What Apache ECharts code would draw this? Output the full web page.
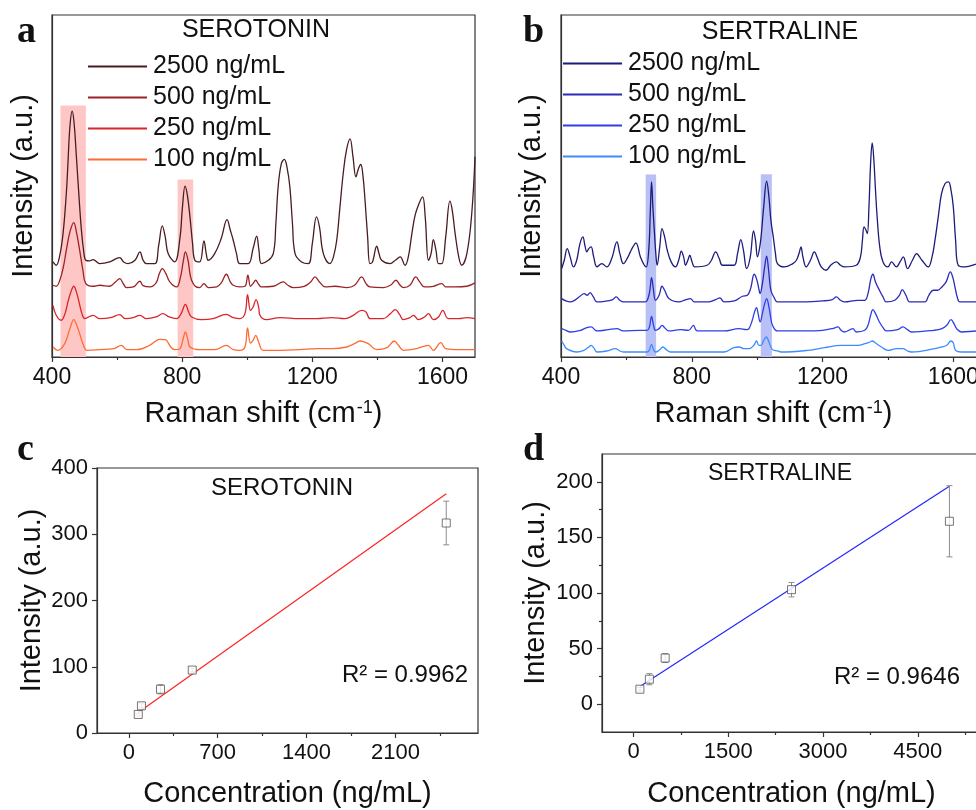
<!DOCTYPE html>
<html><head><meta charset="utf-8">
<script src="https://cdn.jsdelivr.net/npm/echarts@6/dist/echarts.min.js"></script>
<style>html,body{margin:0;padding:0;background:#fff}#c{width:976px;height:810px}</style>
</head><body><div id="c"></div>
<script>
// ---------------- DATA ----------------
const concLabels = ['2500 ng/mL', '500 ng/mL', '250 ng/mL', '100 ng/mL'];
const ramanTicks = [400, 800, 1200, 1600];
const ramanMinor = [600, 1000, 1400];

// Serotonin SERS spectra [Raman shift, intensity (a.u., offset)]
const sero2500 = [[403,285],[413,275],[424,305],[434,370],[444,490],[449,580],[455,690],[462,737],[468,700],[475,600],[483,480],[490,385],[497,320],[504,290],[515,288],[526,292],[547,280],[577,285],[608,298],[620,285],[634,280],[655,290],[670,315],[680,290],[690,280],[716,280],[728,335],[739,393],[748,360],[757,310],[777,285],[793,355],[801,450],[809,512],[816,485],[824,420],[832,340],[839,290],[854,285],[867,348],[874,310],[880,290],[900,310],[920,355],[938,412],[948,380],[957,350],[967,310],[977,280],[1003,280],[1018,325],[1029,362],[1036,320],[1044,280],[1080,310],[1088,400],[1095,510],[1105,580],[1114,592],[1122,570],[1131,510],[1139,400],[1147,310],[1167,285],[1188,280],[1200,340],[1213,420],[1222,390],[1234,310],[1254,280],[1265,300],[1275,350],[1285,450],[1295,550],[1305,620],[1316,654],[1325,600],[1334,540],[1342,565],[1349,577],[1356,540],[1362,470],[1370,360],[1377,280],[1385,285],[1398,332],[1405,310],[1413,290],[1439,280],[1455,290],[1470,300],[1485,275],[1495,300],[1506,370],[1516,425],[1528,460],[1539,480],[1547,420],[1557,290],[1565,310],[1572,352],[1580,320],[1588,280],[1598,280],[1610,360],[1623,467],[1630,440],[1639,370],[1650,300],[1659,275],[1675,310],[1690,430],[1700,600]];
const sero500 = [[403,215],[413,212],[424,230],[435,270],[444,320],[455,375],[467,403],[475,375],[485,320],[495,260],[504,220],[526,212],[547,215],[577,212],[595,225],[608,235],[620,218],[629,208],[650,210],[670,227],[680,214],[701,210],[720,222],[730,250],[739,265],[750,250],[762,225],[783,210],[795,240],[804,290],[810,315],[818,290],[824,250],[829,230],[840,212],[854,208],[867,220],[880,208],[906,210],[920,222],[936,248],[948,225],[957,215],[977,210],[993,212],[1002,245],[1010,212],[1018,220],[1026,230],[1035,218],[1044,210],[1080,212],[1111,225],[1125,215],[1142,208],[1175,212],[1195,225],[1208,240],[1222,225],[1240,210],[1270,212],[1306,208],[1330,215],[1352,240],[1365,220],[1377,210],[1418,208],[1440,215],[1457,230],[1470,215],[1480,208],[1500,215],[1518,240],[1530,225],[1545,210],[1572,212],[1598,220],[1610,210],[1639,210],[1675,212],[1700,222]];
const sero250 = [[403,155],[413,125],[428,110],[440,130],[449,165],[458,195],[467,212],[475,195],[483,165],[492,130],[501,115],[526,125],[547,115],[580,118],[608,127],[625,115],[650,118],[670,125],[690,115],[720,120],[741,130],[760,120],[783,115],[797,130],[810,158],[820,135],[829,120],[860,112],[895,115],[936,128],[957,118],[977,115],[993,130],[1001,187],[1010,140],[1018,150],[1027,172],[1035,150],[1039,125],[1059,112],[1100,118],[1162,115],[1213,115],[1260,118],[1300,115],[1326,125],[1352,140],[1365,135],[1378,115],[1418,115],[1440,130],[1455,142],[1468,128],[1480,112],[1500,118],[1511,125],[1526,112],[1545,120],[1557,130],[1572,112],[1588,120],[1601,140],[1618,115],[1650,115],[1675,118],[1700,115]];
const sero100 = [[403,30],[418,20],[439,40],[455,85],[467,112],[476,95],[485,70],[495,40],[508,20],[547,22],[590,25],[613,35],[630,22],[660,22],[700,35],[731,53],[745,52],[752,50],[765,30],[777,22],[793,25],[802,50],[810,75],[818,50],[824,30],[854,22],[900,22],[936,35],[957,22],[977,20],[993,30],[1001,87],[1010,42],[1018,50],[1026,65],[1035,45],[1049,20],[1100,20],[1160,22],[1213,25],[1260,25],[1306,30],[1330,40],[1347,48],[1360,45],[1372,40],[1398,22],[1430,28],[1452,48],[1465,35],[1480,20],[1520,25],[1557,35],[1572,20],[1595,43],[1610,25],[1650,22],[1700,22]];

// Sertraline SERS spectra
const sert2500 = [[402,265],[410,290],[419,325],[428,300],[438,270],[448,290],[458,340],[467,360],[473,335],[479,315],[485,325],[492,330],[500,300],[510,270],[525,280],[540,270],[555,295],[571,345],[580,310],[591,280],[605,300],[612,315],[620,330],[629,342],[643,300],[655,275],[661,270],[669,330],[673,430],[677,525],[681,450],[686,370],[690,310],[694,275],[702,330],[709,385],[717,360],[725,320],[737,285],[750,270],[760,290],[768,317],[775,300],[781,275],[788,290],[794,305],[801,285],[809,270],[847,275],[860,290],[873,315],[884,295],[894,275],[929,275],[940,310],[950,352],[958,320],[968,265],[979,300],[989,378],[995,350],[1001,300],[1008,330],[1013,370],[1020,450],[1029,527],[1036,480],[1042,410],[1050,355],[1056,310],[1062,280],[1083,270],[1109,280],[1120,290],[1128,310],[1134,330],[1140,300],[1150,270],[1163,290],[1175,315],[1185,295],[1196,270],[1211,260],[1225,275],[1242,285],[1255,275],[1267,270],[1303,275],[1316,300],[1322,350],[1327,390],[1333,380],[1337,370],[1342,450],[1347,580],[1352,642],[1357,590],[1362,500],[1367,420],[1375,330],[1385,285],[1400,270],[1411,285],[1426,270],[1437,285],[1447,300],[1460,265],[1475,290],[1488,310],[1497,300],[1504,290],[1523,270],[1535,300],[1544,350],[1554,420],[1564,490],[1575,520],[1585,525],[1593,500],[1600,450],[1607,350],[1615,275],[1636,270],[1675,280],[1700,285]];
const sert500 = [[402,175],[415,168],[428,165],[445,172],[458,182],[471,190],[480,185],[489,193],[499,180],[510,165],[540,168],[558,172],[569,180],[580,170],[591,165],[640,165],[658,165],[670,190],[677,238],[683,200],[689,170],[700,185],[709,212],[717,200],[730,175],[760,165],[782,172],[796,175],[808,165],[850,165],[873,172],[886,177],[899,165],[930,168],[955,182],[970,185],[980,205],[991,248],[998,235],[1004,210],[1009,190],[1016,220],[1023,270],[1029,302],[1035,260],[1042,200],[1052,178],[1062,165],[1103,165],[1150,165],[1200,168],[1230,172],[1242,180],[1255,170],[1267,165],[1308,170],[1329,170],[1339,190],[1348,235],[1354,248],[1362,225],[1374,200],[1385,180],[1395,165],[1421,170],[1435,185],[1444,202],[1455,185],[1467,165],[1513,165],[1525,185],[1539,200],[1552,200],[1565,210],[1578,225],[1591,255],[1598,240],[1605,210],[1612,180],[1620,165],[1675,165],[1700,168]];
const sert250 = [[402,85],[415,80],[428,75],[460,80],[479,88],[492,90],[505,80],[510,78],[545,82],[571,85],[590,78],[640,80],[663,80],[670,88],[677,122],[683,95],[689,80],[700,85],[709,95],[717,88],[730,78],[766,82],[790,80],[805,95],[812,82],[817,78],[899,78],[945,85],[968,82],[975,85],[985,110],[992,135],[998,148],[1003,130],[1009,105],[1016,130],[1023,160],[1029,175],[1036,150],[1042,115],[1047,95],[1062,78],[1155,78],[1200,80],[1230,85],[1247,90],[1257,80],[1267,75],[1293,85],[1303,75],[1329,80],[1339,95],[1347,125],[1354,142],[1362,130],[1374,105],[1385,88],[1395,78],[1430,82],[1446,90],[1460,82],[1472,75],[1540,80],[1565,85],[1580,95],[1593,112],[1602,100],[1610,85],[1625,75],[1675,78],[1700,78]];
const sert100 = [[402,48],[410,35],[417,25],[448,15],[470,20],[485,30],[492,35],[500,28],[510,15],[540,18],[566,25],[580,18],[591,15],[663,15],[670,20],[677,38],[683,22],[689,15],[700,20],[712,30],[722,22],[735,15],[800,15],[899,15],[929,28],[945,30],[960,25],[975,25],[990,35],[998,48],[1005,35],[1012,35],[1020,50],[1028,60],[1036,45],[1047,22],[1062,18],[1073,15],[1155,20],[1206,28],[1257,35],[1308,35],[1330,40],[1345,45],[1352,48],[1362,42],[1380,30],[1400,20],[1426,25],[1446,25],[1460,18],[1472,15],[1544,25],[1564,30],[1580,35],[1593,48],[1600,42],[1607,20],[1625,15],[1675,15],[1700,15]];

// highlighted bands [from, to, top]
const seroBands = [[426, 504, 754], [786, 834, 532]];
const sertBands = [[659, 691, 547], [1011, 1045, 548]];

// calibration (c): serotonin
const seroConc = [75, 100, 250, 500, 2500];
const seroInt = [28, 41, 66, 95, 317];
const seroErr = [2, 3, 7, 3, 33];
const seroFit = [[75, 31], [2500, 361]];
const seroR2 = 'R² = 0.9962';
const seroXTicks = [0, 700, 1400, 2100];
const seroXMinor = [350, 1050, 1750, 2450];
const seroYTicks = [0, 100, 200, 300, 400];

// calibration (d): sertraline
const sertConc = [100, 250, 500, 2500, 5000];
const sertInt = [13.5, 22.5, 41.5, 103, 164.5];
const sertErr = [1.5, 5, 4, 6.5, 32];
const sertFit = [[100, 16], [5000, 196]];
const sertR2 = 'R² = 0.9646';
const sertXTicks = [0, 1500, 3000, 4500];
const sertXMinor = [750, 2250, 3750, 5250];
const sertYTicks = [0, 50, 100, 150, 200];
const sertYMinor = [25, 75, 125, 175];

// ---------------- CHART ----------------
const FONT = '"Liberation Sans", Arial, Helvetica, sans-serif';
const AX = '#333';
const chart = echarts.init(document.getElementById('c'), null, {renderer: 'canvas'});

const seroColors = ['#4a1c20', '#9b2226', '#d8262a', '#ff6b35'];
const sertColors = ['#1b1b7a', '#2a2ab8', '#2d3fe6', '#3b8cff'];
const plain = v => String(v);

function gridDef(l, t, w, h) {
  return {left: l, top: t, width: w, height: h, show: true, borderColor: AX, borderWidth: 1.2,
    backgroundColor: 'transparent', containLabel: false, outerBoundsMode: 'none'};
}
function mainX(gi, min, max, ticks, labelSize, name, nameGap, extra) {
  return Object.assign({
    type: 'value', gridIndex: gi, min: min, max: max, position: 'bottom',
    axisLine: {show: true, onZero: false, lineStyle: {color: AX, width: 1.2}},
    axisTick: {show: true, inside: false, length: 5, customValues: ticks, lineStyle: {color: AX, width: 1.2}},
    axisLabel: {show: true, customValues: ticks, formatter: plain, margin: 9, fontSize: labelSize, fontFamily: FONT, color: '#111'},
    splitLine: {show: false},
    name: name, nameLocation: 'middle', nameGap: nameGap,
    nameTextStyle: {fontSize: 29, fontFamily: FONT, color: '#111'}
  }, extra || {});
}
function minorX(gi, min, max, ticks) {
  return {type: 'value', gridIndex: gi, min: min, max: max, position: 'bottom',
    axisLine: {show: false, onZero: false}, axisLabel: {show: false}, splitLine: {show: false},
    axisTick: {show: true, inside: false, length: 3, customValues: ticks, lineStyle: {color: AX, width: 1.2}}};
}
function mainY(gi, min, max, ticks, labelSize, name, nameGap) {
  return {
    type: 'value', gridIndex: gi, min: min, max: max, position: 'left',
    axisLine: {show: true, onZero: false, lineStyle: {color: AX, width: 1.2}},
    axisTick: ticks ? {show: true, inside: false, length: 5, customValues: ticks, lineStyle: {color: AX, width: 1.2}} : {show: false},
    axisLabel: ticks ? {show: true, customValues: ticks, formatter: plain, margin: 9, fontSize: labelSize, fontFamily: FONT, color: '#111'} : {show: false},
    splitLine: {show: false},
    name: name, nameLocation: 'middle', nameGap: nameGap,
    nameTextStyle: {fontSize: 29, fontFamily: FONT, color: '#111'}
  };
}
function minorY(gi, min, max, ticks) {
  return {type: 'value', gridIndex: gi, min: min, max: max, position: 'left',
    axisLine: {show: false, onZero: false}, axisLabel: {show: false}, splitLine: {show: false},
    axisTick: {show: true, inside: false, length: 3, customValues: ticks, lineStyle: {color: AX, width: 1.2}}};
}

const ramanName = 'Raman shift (cm{sup|-1})';
const ramanNameStyle = {fontSize: 29, fontFamily: FONT, color: '#111',
  rich: {sup: {fontSize: 18, fontFamily: FONT, color: '#111', verticalAlign: 'top', lineHeight: 18, padding: [0, 0, 14, 1]}}};

const xAxes = [
  mainX(0, 400, 1700, ramanTicks, 23, ramanName, 42, {nameTextStyle: ramanNameStyle}),
  minorX(0, 400, 1700, ramanMinor),
  mainX(1, 400, 1700, ramanTicks, 23, ramanName, 42, {nameTextStyle: ramanNameStyle}),
  minorX(1, 400, 1700, ramanMinor),
  mainX(2, -250, 2750, seroXTicks, 22, 'Concentration (ng/mL)', 46),
  minorX(2, -250, 2750, seroXMinor),
  mainX(3, -500, 5500, sertXTicks, 22, 'Concentration (ng/mL)', 47),
  minorX(3, -500, 5500, sertXMinor)
];
const yAxes = [
  mainY(0, 0, 1025, null, 0, 'Intensity (a.u.)', 14),
  mainY(1, 0, 1025, null, 0, 'Intensity (a.u.)', 15),
  mainY(2, 0, 400, seroYTicks, 22, 'Intensity (a.u.)', 51),
  mainY(3, -25, 225, sertYTicks, 22, 'Intensity (a.u.)', 52),
  minorY(3, -25, 225, sertYMinor)
];

function bandSeries(xi, yi, data, color) {
  return {type: 'custom', xAxisIndex: xi, yAxisIndex: yi, silent: true, z: 1,
    data: data, encode: {x: [0, 1], y: 2},
    renderItem: function (params, api) {
      const p1 = api.coord([api.value(0), api.value(2)]);
      const p2 = api.coord([api.value(1), 0]);
      return {type: 'rect', shape: {x: p1[0], y: p1[1], width: p2[0] - p1[0], height: p2[1] - p1[1]},
        style: {fill: color}};
    }};
}
function specSeries(name, xi, yi, data, color) {
  return {type: 'line', name: name, xAxisIndex: xi, yAxisIndex: yi, data: data,
    showSymbol: false, smooth: 0.4, z: 3,
    lineStyle: {color: color, width: 1.3}, itemStyle: {color: color}};
}
function errSeries(xi, yi, conc, val, err) {
  return {type: 'custom', xAxisIndex: xi, yAxisIndex: yi, silent: true, z: 4,
    data: conc.map((c, i) => [c, val[i], err[i]]), encode: {x: 0, y: 1},
    renderItem: function (params, api) {
      const x = api.value(0), y = api.value(1), e = api.value(2);
      const hi = api.coord([x, y + e]), lo = api.coord([x, y - e]);
      const st = {stroke: '#8c8c8c', lineWidth: 1};
      return {type: 'group', children: [
        {type: 'line', shape: {x1: hi[0], y1: hi[1], x2: lo[0], y2: lo[1]}, style: st},
        {type: 'line', shape: {x1: hi[0] - 3, y1: hi[1], x2: hi[0] + 3, y2: hi[1]}, style: st},
        {type: 'line', shape: {x1: lo[0] - 3, y1: lo[1], x2: lo[0] + 3, y2: lo[1]}, style: st}
      ]};
    }};
}

const aNames = concLabels.map(n => 'a:' + n);
const bNames = concLabels.map(n => 'b:' + n);
const seroSpectra = [sero2500, sero500, sero250, sero100];
const sertSpectra = [sert2500, sert500, sert250, sert100];

const series = [bandSeries(0, 0, seroBands, '#ffc6c6'), bandSeries(2, 1, sertBands, '#b9c0f6')];
seroSpectra.forEach((d, i) => series.push(specSeries(aNames[i], 0, 0, d, seroColors[i])));
sertSpectra.forEach((d, i) => series.push(specSeries(bNames[i], 2, 1, d, sertColors[i])));

series.push({type: 'line', name: 'fitC', xAxisIndex: 4, yAxisIndex: 2, data: seroFit, showSymbol: false,
  lineStyle: {color: '#ff2222', width: 1.2}, z: 3, silent: true});
series.push(errSeries(4, 2, seroConc, seroInt, seroErr));
series.push({type: 'scatter', name: 'ptsC', xAxisIndex: 4, yAxisIndex: 2, data: seroConc.map((c, i) => [c, seroInt[i]]),
  symbol: 'rect', symbolSize: 8, z: 5, itemStyle: {color: '#ffffff', borderColor: '#555', borderWidth: 1}});

series.push({type: 'line', name: 'fitD', xAxisIndex: 6, yAxisIndex: 3, data: sertFit, showSymbol: false,
  lineStyle: {color: '#2424ff', width: 1.2}, z: 3, silent: true});
series.push(errSeries(6, 3, sertConc, sertInt, sertErr));
series.push({type: 'scatter', name: 'ptsD', xAxisIndex: 6, yAxisIndex: 3, data: sertConc.map((c, i) => [c, sertInt[i]]),
  symbol: 'rect', symbolSize: 8, z: 5, itemStyle: {color: '#ffffff', borderColor: '#555', borderWidth: 1}});

function legendDef(names, left, top) {
  return {data: names, left: left, top: top, orient: 'vertical', icon: 'rect', itemWidth: 59, itemHeight: 2,
    itemGap: 6, selectedMode: false, padding: 0,
    formatter: n => n.slice(2),
    textStyle: {fontSize: 25, fontFamily: FONT, color: '#111', lineHeight: 25, padding: [0, 0, 0, 1]}};
}

function txt(str, x, y, size, align, family, weight) {
  return {type: 'text', x: x, y: y, silent: true, z: 10,
    style: {text: str, fontSize: size, fontFamily: family || FONT, fontWeight: weight || 'normal',
      fill: '#111', align: align || 'center', verticalAlign: 'middle'}};
}
const SERIF = '"Liberation Serif", "Times New Roman", serif';

chart.setOption({
  animation: false,
  backgroundColor: '#ffffff',
  grid: [gridDef(52, 15, 423, 342), gridDef(561, 15, 425, 342), gridDef(97, 468, 381, 265), gridDef(602, 454, 379, 278)],
  xAxis: xAxes,
  yAxis: yAxes,
  legend: [legendDef(aNames, 88, 54), legendDef(bNames, 563, 51)],
  series: series,
  graphic: [
    txt('a', 17, 32, 38, 'left', SERIF, 'bold'),
    txt('b', 523, 32, 38, 'left', SERIF, 'bold'),
    txt('c', 17, 450, 38, 'left', SERIF, 'bold'),
    txt('d', 523, 450, 38, 'left', SERIF, 'bold'),
    txt('SEROTONIN', 256, 30, 25),
    txt('SERTRALINE', 780, 32, 25),
    txt('SEROTONIN', 282, 488, 24),
    txt('SERTRALINE', 780, 474, 23),
    txt(seroR2, 468, 675, 24, 'right'),
    txt(sertR2, 960, 677, 24, 'right')
  ]
});
</script>
</body></html>
